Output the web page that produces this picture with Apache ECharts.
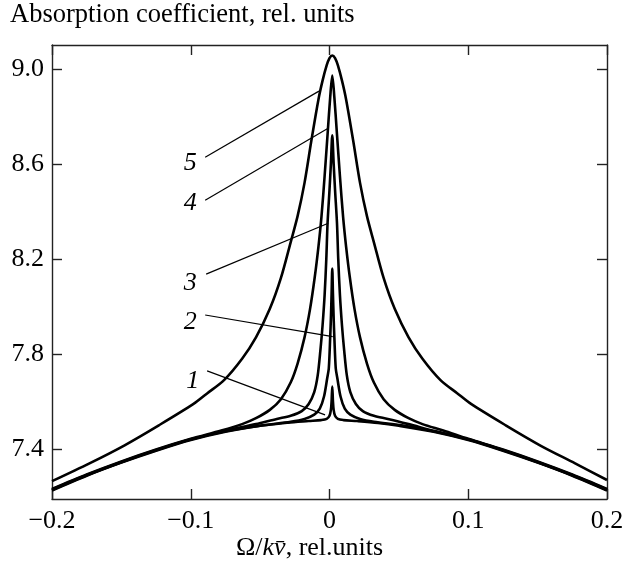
<!DOCTYPE html>
<html>
<head>
<meta charset="utf-8">
<script src="https://cdn.jsdelivr.net/npm/echarts@6/dist/echarts.min.js"></script>
<style>
  html, body { margin: 0; padding: 0; background: #fff; }
  #chart { width: 634px; height: 569px; }
</style>
</head>
<body>
<div id="chart"></div>
<script>
// Absorption profiles vs. normalized detuning, curves 1..5
const x1 = [-0.2,-0.175,-0.15,-0.125,-0.1,-0.075,-0.05,-0.03,-0.015,-0.006,-0.002,0,0.001,0.0015,0.002,0.0025,0.003,0.004,0.006,0.01,0.02,0.035,0.05,0.075,0.1,0.125,0.15,0.175,0.2];
const y1 = [7.226,7.288,7.343,7.393,7.438,7.473,7.498,7.511,7.518,7.522,7.527,7.54,7.565,7.6,7.663,7.6,7.565,7.54,7.527,7.522,7.518,7.51,7.498,7.473,7.438,7.393,7.343,7.288,7.226];

const x2 = [-0.2,-0.175,-0.15,-0.125,-0.1,-0.075,-0.048,-0.028,-0.018,-0.011,-0.007,-0.004,-0.0016,-0.0005,0.0005,0.001,0.0015,0.002,0.0025,0.003,0.0035,0.0045,0.0056,0.008,0.011,0.015,0.022,0.032,0.052,0.075,0.1,0.125,0.15,0.175,0.2];
const y2 = [7.228,7.29,7.345,7.395,7.44,7.475,7.5,7.515,7.527,7.545,7.57,7.62,7.7,7.74,7.87,7.95,8.05,8.16,8.05,7.95,7.87,7.74,7.7,7.62,7.57,7.545,7.527,7.515,7.5,7.475,7.44,7.395,7.345,7.29,7.228];

const x3 = [-0.2,-0.175,-0.15,-0.125,-0.1,-0.075,-0.053,-0.038,-0.028,-0.02,-0.015,-0.011,-0.0085,-0.0065,-0.005,-0.0035,-0.0023,-0.0014,0,0.001,0.002,0.003,0.004,0.0054,0.0063,0.0075,0.009,0.0105,0.0125,0.015,0.019,0.024,0.032,0.042,0.057,0.075,0.1,0.125,0.15,0.175,0.2];
const y3 = [7.23,7.291,7.346,7.396,7.441,7.477,7.505,7.527,7.54,7.56,7.59,7.64,7.71,7.82,7.92,8.05,8.2,8.35,8.49,8.6,8.72,8.6,8.49,8.35,8.2,8.05,7.92,7.82,7.71,7.64,7.59,7.56,7.54,7.527,7.505,7.477,7.441,7.396,7.346,7.291,7.23];

const x4 = [-0.2,-0.175,-0.15,-0.125,-0.1,-0.078,-0.063,-0.053,-0.043,-0.035,-0.028,-0.023,-0.018,-0.014,-0.0106,-0.008,-0.0058,-0.0035,-0.0012,0.0005,0.002,0.0035,0.0052,0.0075,0.0098,0.012,0.0146,0.018,0.022,0.027,0.032,0.039,0.047,0.057,0.067,0.082,0.1,0.125,0.15,0.175,0.2];
const y4 = [7.232,7.293,7.348,7.398,7.443,7.478,7.505,7.53,7.565,7.61,7.68,7.76,7.87,7.99,8.125,8.25,8.377,8.55,8.74,8.88,8.972,8.88,8.74,8.55,8.377,8.25,8.125,7.99,7.87,7.76,7.68,7.61,7.565,7.53,7.505,7.478,7.443,7.398,7.348,7.293,7.232];

const x5 = [-0.2,-0.173,-0.148,-0.123,-0.098,-0.088,-0.076,-0.063,-0.053,-0.043,-0.035,-0.028,-0.023,-0.018,-0.013,-0.008,-0.005,-0.002,0,0.002,0.004,0.006,0.009,0.012,0.017,0.022,0.027,0.032,0.039,0.047,0.057,0.067,0.08,0.092,0.102,0.127,0.152,0.177,0.2];
const y5 = [7.265,7.34,7.415,7.5,7.59,7.635,7.69,7.78,7.87,7.99,8.12,8.27,8.38,8.52,8.7,8.87,8.95,9.015,9.045,9.056,9.045,9.015,8.95,8.87,8.7,8.52,8.38,8.27,8.12,7.99,7.87,7.78,7.69,7.635,7.59,7.5,7.415,7.34,7.27];

// Curve numbers and their leader lines, in data units
const curveNames = ['1', '2', '3', '4', '5'];
const labelPos = [[-0.0985, 7.687], [-0.1004, 7.935], [-0.1004, 8.098], [-0.1004, 8.434], [-0.1004, 8.602]];
const leaderStart = [[-0.0882, 7.729], [-0.0896, 7.964], [-0.0889, 8.136], [-0.0896, 8.447], [-0.0896, 8.6275]];
const leaderEnd = [[-0.0032, 7.544], [0.0023, 7.873], [-0.0009, 8.35], [-0.0016, 8.748], [-0.0076, 8.906]];

const xTicks = [-0.2, -0.1, 0, 0.1, 0.2];
const yTicks = [7.4, 7.8, 8.2, 8.6, 9.0];

const curveX = [x1, x2, x3, x4, x5];
const curveY = [y1, y2, y3, y4, y5];

const SERIF = '"Liberation Serif", "DejaVu Serif", serif';
const FRAME = '#222';

function zip(xs, ys) { return xs.map((v, i) => [v, ys[i]]); }

const curveSeries = curveX.map((xs, i) => ({
  type: 'line',
  name: 'curve ' + curveNames[i],
  data: zip(xs, curveY[i]),
  showSymbol: false,
  smooth: 0.3,
  lineStyle: { color: '#000', width: 2.6 },
  z: 3,
  silent: true
}));

const leaderSeries = leaderStart.map((s, i) => ({
  type: 'line',
  data: [s, leaderEnd[i]],
  showSymbol: false,
  lineStyle: { color: '#000', width: 1.2 },
  z: 2,
  silent: true
}));

const labelSeries = {
  type: 'scatter',
  symbolSize: 1,
  itemStyle: { opacity: 0 },
  data: labelPos.map((p, i) => ({ value: p, name: curveNames[i] })),
  label: {
    show: true,
    position: 'inside',
    formatter: p => p.name,
    fontFamily: SERIF,
    fontStyle: 'italic',
    fontSize: 26,
    color: '#000',
    opacity: 1
  },
  emphasis: { disabled: true },
  silent: true,
  z: 4
};

const fmt = v => {
  const s = Math.abs(v) < 1e-9 ? '0' : Math.abs(v).toFixed(1);
  return v < -1e-9 ? '\u2212' + s : s;
};

const axisCommon = {
  axisLine: { show: true, onZero: false, lineStyle: { color: FRAME, width: 1.4 } },
  axisTick: { show: true, inside: true, length: 10, lineStyle: { color: FRAME, width: 1.4 } },
  splitLine: { show: false }
};

const chart = echarts.init(document.getElementById('chart'), null, { renderer: 'canvas' });
chart.setOption({
  animation: false,
  backgroundColor: '#fff',
  title: {
    text: 'Absorption coefficient, rel. units',
    left: 10,
    top: 2,
    padding: 0,
    textStyle: { fontFamily: SERIF, fontWeight: 'normal', fontSize: 26.5, color: '#000' }
  },
  grid: { left: 52, right: 27, top: 45, bottom: 70, containLabel: false },
  xAxis: [
    Object.assign({
      type: 'value', position: 'bottom', min: -0.2, max: 0.2, interval: 0.1,
      axisLabel: { show: true, margin: 9, formatter: fmt, fontFamily: SERIF, fontSize: 26, color: '#000',
                   customValues: xTicks },
    }, axisCommon, { axisTick: Object.assign({}, axisCommon.axisTick, { customValues: xTicks }) }),
    Object.assign({
      type: 'value', position: 'top', min: -0.2, max: 0.2, interval: 0.1,
      axisLabel: { show: false }
    }, axisCommon, { axisTick: Object.assign({}, axisCommon.axisTick, { customValues: xTicks }) })
  ],
  yAxis: [
    Object.assign({
      type: 'value', position: 'left', min: 7.19, max: 9.1,
      axisLabel: { show: true, margin: 8, formatter: v => v.toFixed(1), fontFamily: SERIF, fontSize: 26, color: '#000',
                   customValues: yTicks }
    }, axisCommon, { axisTick: Object.assign({}, axisCommon.axisTick, { customValues: yTicks }) }),
    Object.assign({
      type: 'value', position: 'right', min: 7.19, max: 9.1,
      axisLabel: { show: false }
    }, axisCommon, { axisTick: Object.assign({}, axisCommon.axisTick, { customValues: yTicks }) })
  ],
  graphic: [{
    type: 'text',
    left: 236,
    top: 535,
    style: {
      text: '{n|\u03A9/}{i|kv\u0304}{n|, rel.units}',
      rich: {
        n: { fontFamily: SERIF, fontSize: 26, fill: '#000' },
        i: { fontFamily: SERIF, fontSize: 26, fontStyle: 'italic', fill: '#000' }
      }
    }
  }],
  series: [...curveSeries, ...leaderSeries, labelSeries]
});
</script>
</body>
</html>
